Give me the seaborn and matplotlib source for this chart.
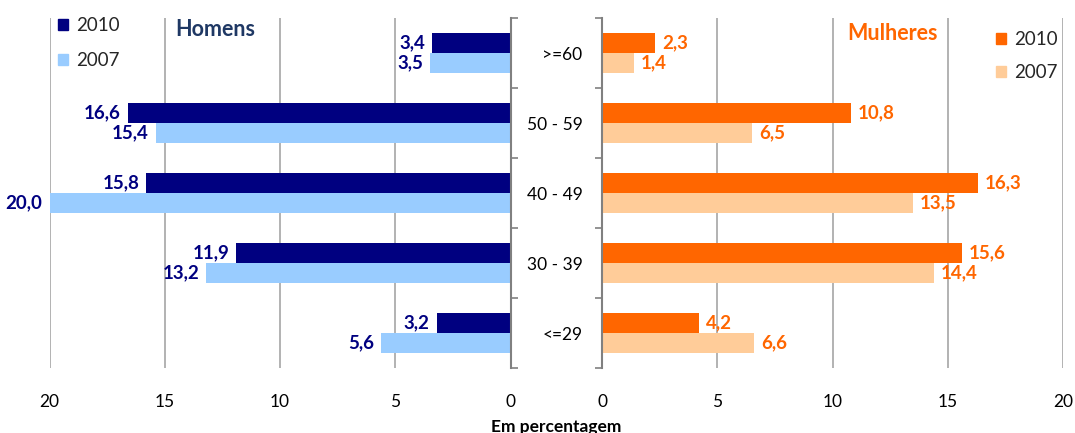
import matplotlib
matplotlib.use("Agg")
import matplotlib.pyplot as plt
from matplotlib.patches import Patch
from matplotlib.ticker import FixedLocator
import seaborn as sns
import pandas as pd

# Age groups, top to bottom
idades = [">=60", "50 - 59", "40 - 49", "30 - 39", "<=29"]
anos = ["2010", "2007"]

# Percentages by sex and year
homens_2010 = [3.4, 16.6, 15.8, 11.9, 3.2]
homens_2007 = [3.5, 15.4, 20.0, 13.2, 5.6]
mulheres_2010 = [2.3, 10.8, 16.3, 15.6, 4.2]
mulheres_2007 = [1.4, 6.5, 13.5, 14.4, 6.6]

escala = [0, 5, 10, 15, 20]

cores_h = ["#000080", "#99CCFF"]
cores_m = ["#FF6600", "#FFCC99"]
cor_grelha = "#A6A6A6"
cor_eixo = "#808080"


def tabela(v2010, v2007):
    return pd.DataFrame({
        "Idade": idades * 2,
        "Ano": [anos[0]] * len(idades) + [anos[1]] * len(idades),
        "Valor": list(v2010) + list(v2007),
    })


def fmt(v):
    return f"{v:.1f}".replace(".", ",")


sns.set_theme(style="white")
plt.rcParams["font.family"] = ["Lato", "DejaVu Sans"]

W, H = 1075, 433
fig = plt.figure(figsize=(W / 100, H / 100), dpi=100)
topo, base = 18, 368
ax_h = fig.add_axes([49.5 / W, 1 - base / H, (510.5 - 49.5) / W, (base - topo) / H])
ax_m = fig.add_axes([602 / W, 1 - base / H, (1063 - 602) / W, (base - topo) / H])

for ax, dados, cores in [
    (ax_h, tabela(homens_2010, homens_2007), cores_h),
    (ax_m, tabela(mulheres_2010, mulheres_2007), cores_m),
]:
    sns.barplot(data=dados, y="Idade", x="Valor", hue="Ano", order=idades,
                hue_order=anos, palette=cores, orient="h", width=0.571,
                saturation=1, errorbar=None, linewidth=0, legend=False, ax=ax)
    ax.set_xlim(0, 20)
    ax.set_ylim(len(idades) - 0.5, -0.5)
    ax.xaxis.set_major_locator(FixedLocator(escala))
    ax.set_xticklabels([str(t) for t in escala])
    ax.tick_params(axis="x", length=0, pad=19, labelsize=12.5, labelcolor="black")
    ax.grid(axis="x", color=cor_grelha, linewidth=1.2)
    ax.grid(axis="y", visible=False)
    ax.set_axisbelow(True)
    ax.set_xlabel("")
    ax.set_ylabel("")
    for s in ax.spines.values():
        s.set_visible(False)
    ax.yaxis.set_minor_locator(FixedLocator([i - 0.5 for i in range(len(idades) + 1)]))
    ax.tick_params(axis="y", which="minor", length=5, width=1.2, color=cor_eixo,
                   direction="out")

# Men: mirrored axis, spine on the right
ax_h.invert_xaxis()
ax_h.spines["right"].set_visible(True)
ax_h.spines["right"].set_color(cor_eixo)
ax_h.spines["right"].set_linewidth(1.5)
ax_h.yaxis.tick_right()
ax_h.tick_params(axis="y", which="major", length=0, labelright=False, labelleft=False)
ax_h.tick_params(axis="y", which="minor", left=False, right=True)

# Women: spine on the left, age groups as labels
ax_m.spines["left"].set_visible(True)
ax_m.spines["left"].set_color(cor_eixo)
ax_m.spines["left"].set_linewidth(1.5)
ax_m.yaxis.tick_left()
ax_m.tick_params(axis="y", which="major", length=0, pad=14, labelsize=12.5,
                 labelcolor="black")
ax_m.tick_params(axis="y", which="minor", left=True, right=False)

# Value labels
for cont in ax_h.containers:
    vals = [b.get_width() for b in cont]
    ax_h.bar_label(cont, labels=[fmt(v) for v in vals], padding=5,
                   color="#000080", fontweight="bold", fontsize=13.5)
for cont in ax_m.containers:
    vals = [b.get_width() for b in cont]
    ax_m.bar_label(cont, labels=[fmt(v) for v in vals], padding=5,
                   color="#FF6600", fontweight="bold", fontsize=13.5)

# Legends
ax_h.legend(
    handles=[Patch(color=c, label=a) for c, a in zip(cores_h, anos)],
    loc="upper left", bbox_to_anchor=(58 / W, 1 - 17 / H), bbox_transform=fig.transFigure,
    frameon=False, fontsize=13.5, handlelength=0.55, handleheight=0.55,
    handletextpad=0.4, labelspacing=0.95, borderpad=0, borderaxespad=0)
ax_m.legend(
    handles=[Patch(color=c, label=a) for c, a in zip(cores_m, anos)],
    loc="upper left", bbox_to_anchor=(996 / W, 1 - 31 / H), bbox_transform=fig.transFigure,
    frameon=False, fontsize=13.5, handlelength=0.55, handleheight=0.55,
    handletextpad=0.4, labelspacing=0.85, borderpad=0, borderaxespad=0)

# Panel titles and axis caption
fig.text(175 / W, 1 - 29 / H, "Homens", color="#1F3864", fontweight="bold",
         fontsize=15.5, ha="left", va="center")
fig.text(847 / W, 1 - 33 / H, "Mulheres", color="#FF6600", fontweight="bold",
         fontsize=15.5, ha="left", va="center")
fig.text(556 / W, 1 - 427 / H, "Em percentagem", color="black", fontweight="bold",
         fontsize=12.5, ha="center", va="center")

fig.savefig("out.png", dpi=100)
